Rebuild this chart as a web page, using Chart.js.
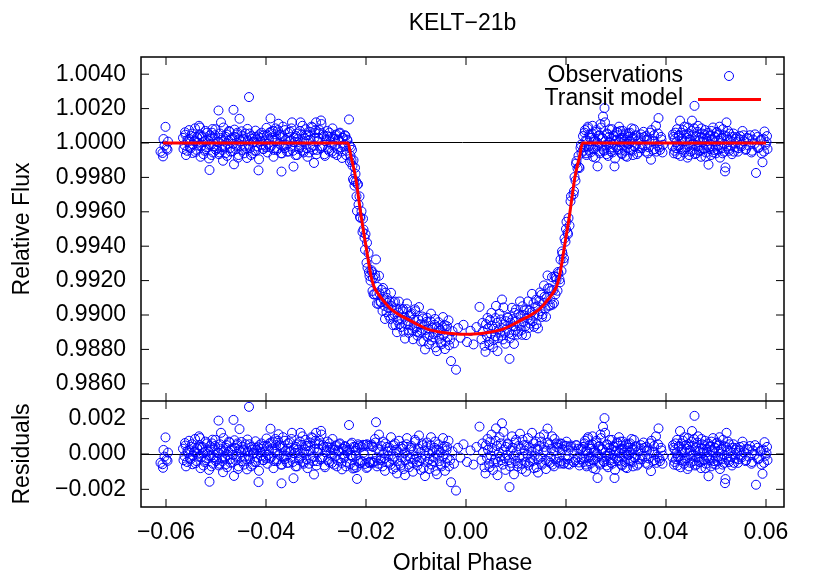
<!DOCTYPE html>
<html>
<head>
<meta charset="utf-8">
<script src="https://cdn.jsdelivr.net/npm/chart.js@4"></script>
<style>
  body { margin: 0; background: #fff; }
  #chart { display: block; }
</style>
</head>
<body>
<canvas id="chart" width="830" height="581"></canvas>
<script>
// ============================================
// KELT-21b transit: observations, model, residuals
// ============================================

// each observation: [orbital phase, relative flux, residual]
const edgeObs = [
  [-0.0611,0.99950,-0.00050],[-0.0607,0.99942,-0.00058],[-0.0606,0.99922,-0.00078],
  [-0.0605,1.00023,0.00023],[-0.0603,0.99985,-0.00015],[-0.0601,1.00094,0.00094],
  [-0.0599,0.99968,-0.00032],[-0.0597,0.99961,-0.00039],[-0.0596,1.00008,0.00008]
];

const preTransitObs = [
  [-0.0566,1.00030,0.00030],[-0.0563,0.99988,-0.00012],[-0.0561,1.00048,0.00048],
  [-0.0558,0.99955,-0.00045],[-0.0556,1.00008,0.00008],[-0.0553,1.00022,0.00022],
  [-0.0551,0.99970,-0.00030],[-0.0548,1.00055,0.00055],[-0.0546,0.99992,-0.00008],
  [-0.0543,1.00015,0.00015],[-0.0541,0.99948,-0.00052],[-0.0538,1.00035,0.00035],
  [-0.0536,1.00002,0.00002],[-0.0534,1.00100,0.00100],[-0.0532,1.00090,0.00090],
  [-0.0530,0.99980,-0.00020],[-0.0527,1.00040,0.00040],[-0.0525,0.99935,-0.00065],
  [-0.0522,1.00012,0.00012],[-0.0520,0.99965,-0.00035],[-0.0518,1.00060,0.00060],
  [-0.0515,0.99990,-0.00010],[-0.0513,0.99843,-0.00157],[-0.0511,1.00025,0.00025],
  [-0.0509,0.99930,-0.00070],[-0.0507,1.00081,0.00081],[-0.0505,0.99982,-0.00018],
  [-0.0502,1.00045,0.00045],[-0.0500,0.99960,-0.00040],[-0.0497,1.00005,0.00005],
  [-0.0495,1.00189,0.00189],[-0.0493,0.99945,-0.00055],[-0.0491,1.00030,0.00030],
  [-0.0490,1.00120,0.00120],[-0.0488,0.99975,-0.00025],[-0.0486,0.99897,-0.00103],
  [-0.0484,1.00015,0.00015],[-0.0481,0.99940,-0.00060],[-0.0479,1.00050,0.00050],
  [-0.0477,0.99995,-0.00005],[-0.0474,1.00070,0.00070],[-0.0472,0.99970,-0.00030],
  [-0.0470,1.00020,0.00020],[-0.0467,0.99952,-0.00048],[-0.0465,1.00193,0.00193],
  [-0.0464,0.99876,-0.00124],[-0.0462,1.00035,0.00035],[-0.0459,0.99985,-0.00015],
  [-0.0457,1.00060,0.00060],[-0.0455,0.99930,-0.00070],[-0.0453,1.00141,0.00141],
  [-0.0450,1.00010,0.00010],[-0.0448,0.99960,-0.00040],[-0.0446,1.00025,0.00025],
  [-0.0443,0.99980,-0.00020],[-0.0441,1.00055,0.00055],[-0.0438,0.99913,-0.00087],
  [-0.0436,1.00015,0.00015],[-0.0434,1.00267,0.00267],[-0.0432,0.99970,-0.00030],
  [-0.0429,1.00040,0.00040],[-0.0427,0.99940,-0.00060],[-0.0424,1.00005,0.00005],
  [-0.0422,1.00035,0.00035],[-0.0420,0.99955,-0.00045],[-0.0417,1.00020,0.00020],
  [-0.0415,0.99841,-0.00159],[-0.0413,1.00050,0.00050],[-0.0410,0.99990,-0.00010],
  [-0.0408,1.00030,0.00030],[-0.0405,0.99965,-0.00035],[-0.0403,1.00010,0.00010],
  [-0.0400,0.99975,-0.00025],[-0.0398,1.00045,0.00045],[-0.0396,0.99995,-0.00005],
  [-0.0393,1.00060,0.00060],[-0.0391,1.00143,0.00143],[-0.0389,0.99985,-0.00015],
  [-0.0386,1.00070,0.00070],[-0.0384,0.99960,-0.00040],[-0.0381,1.00085,0.00085],
  [-0.0379,1.00020,0.00020],[-0.0377,0.99970,-0.00030],[-0.0375,1.00112,0.00112],
  [-0.0372,1.00050,0.00050],[-0.0370,0.99940,-0.00060],[-0.0369,0.99834,-0.00166],
  [-0.0367,1.00040,0.00040],[-0.0365,0.99980,-0.00020],[-0.0362,1.00075,0.00075],
  [-0.0360,0.99990,-0.00010],[-0.0357,1.00030,0.00030],[-0.0355,0.99950,-0.00050],
  [-0.0352,1.00065,0.00065],[-0.0350,1.00015,0.00015],[-0.0348,1.00120,0.00120],
  [-0.0345,0.99863,-0.00137],[-0.0343,1.00005,0.00005],[-0.0340,1.00040,0.00040],
  [-0.0338,0.99930,-0.00070],[-0.0336,1.00025,0.00025],[-0.0333,0.99975,-0.00025],
  [-0.0331,1.00120,0.00120],[-0.0329,1.00050,0.00050],[-0.0326,0.99955,-0.00045],
  [-0.0324,1.00010,0.00010],[-0.0321,1.00080,0.00080],[-0.0319,0.99970,-0.00030],
  [-0.0316,1.00045,0.00045],[-0.0314,0.99945,-0.00055],[-0.0311,1.00020,0.00020],
  [-0.0309,1.00095,0.00095],[-0.0306,0.99985,-0.00015],[-0.0304,0.99884,-0.00116],
  [-0.0302,1.00060,0.00060],[-0.0300,1.00120,0.00120],[-0.0298,0.99960,-0.00040],
  [-0.0295,1.00030,0.00030],[-0.0293,1.00075,0.00075],[-0.0290,1.00131,0.00131],
  [-0.0288,0.99980,-0.00020],[-0.0286,1.00050,0.00050],[-0.0283,0.99935,-0.00065],
  [-0.0281,1.00010,0.00010],[-0.0278,1.00040,0.00040],[-0.0276,0.99965,-0.00035],
  [-0.0273,1.00060,0.00060],[-0.0271,1.00005,0.00005],[-0.0268,0.99950,-0.00050],
  [-0.0266,1.00025,0.00025],[-0.0263,0.99985,-0.00015],[-0.0261,1.00045,0.00045],
  [-0.0258,0.99930,-0.00070],[-0.0256,1.00020,0.00020],[-0.0253,1.00055,0.00055],
  [-0.0251,0.99975,-0.00025],[-0.0248,0.99913,-0.00087],[-0.0246,1.00030,0.00030],
  [-0.0243,0.99990,-0.00010],[-0.0241,1.00040,0.00040],[-0.0239,0.99955,-0.00045],
  [-0.0237,1.00015,0.00015]
];

const preTransitObsB = [
  [-0.0565,0.99965,-0.00035],[-0.0562,1.00062,0.00062],[-0.0560,0.99930,-0.00070],
  [-0.0557,1.00018,0.00018],[-0.0554,1.00075,0.00075],[-0.0552,0.99978,-0.00022],
  [-0.0549,1.00040,0.00040],[-0.0547,0.99942,-0.00058],[-0.0544,1.00010,0.00010],
  [-0.0542,1.00085,0.00085],[-0.0539,0.99960,-0.00040],[-0.0537,1.00028,0.00028],
  [-0.0535,0.99985,-0.00015],[-0.0533,1.00050,0.00050],[-0.0531,0.99920,-0.00080],
  [-0.0528,1.00035,0.00035],[-0.0526,1.00005,0.00005],[-0.0523,0.99955,-0.00045],
  [-0.0521,1.00070,0.00070],[-0.0519,0.99975,-0.00025],[-0.0516,1.00015,0.00015],
  [-0.0514,0.99910,-0.00090],[-0.0512,1.00045,0.00045],[-0.0510,0.99990,-0.00010],
  [-0.0508,1.00060,0.00060],[-0.0506,0.99945,-0.00055],[-0.0503,1.00025,0.00025],
  [-0.0501,1.00080,0.00080],[-0.0498,0.99970,-0.00030],[-0.0496,1.00008,0.00008],
  [-0.0494,0.99935,-0.00065],[-0.0492,1.00055,0.00055],[-0.0489,1.00020,0.00020],
  [-0.0487,0.99960,-0.00040],[-0.0485,1.00090,0.00090],[-0.0482,0.99980,-0.00020],
  [-0.0480,1.00035,0.00035],[-0.0478,0.99925,-0.00075],[-0.0475,1.00012,0.00012],
  [-0.0473,1.00065,0.00065],[-0.0471,0.99950,-0.00050],[-0.0468,1.00030,0.00030],
  [-0.0466,0.99995,-0.00005],[-0.0463,1.00078,0.00078],[-0.0461,0.99965,-0.00035],
  [-0.0458,1.00050,0.00050],[-0.0456,0.99915,-0.00085],[-0.0454,1.00022,0.00022],
  [-0.0451,0.99985,-0.00015],[-0.0449,1.00068,0.00068],[-0.0447,1.00040,0.00040],
  [-0.0444,0.99940,-0.00060],[-0.0442,1.00015,0.00015],[-0.0440,0.99970,-0.00030],
  [-0.0437,1.00082,0.00082],[-0.0435,0.99990,-0.00010],[-0.0433,1.00055,0.00055],
  [-0.0430,0.99930,-0.00070],[-0.0428,1.00025,0.00025],[-0.0426,1.00005,0.00005],
  [-0.0423,0.99955,-0.00045],[-0.0421,1.00072,0.00072],[-0.0418,0.99980,-0.00020],
  [-0.0416,1.00038,0.00038],[-0.0414,0.99905,-0.00095],[-0.0411,1.00010,0.00010],
  [-0.0409,1.00060,0.00060],[-0.0406,0.99965,-0.00035],[-0.0404,1.00045,0.00045],
  [-0.0401,0.99985,-0.00015],[-0.0399,1.00088,0.00088],[-0.0397,0.99945,-0.00055],
  [-0.0394,1.00020,0.00020],[-0.0392,0.99975,-0.00025],[-0.0390,1.00065,0.00065],
  [-0.0387,1.00030,0.00030],[-0.0385,0.99920,-0.00080],[-0.0382,1.00012,0.00012],
  [-0.0380,1.00050,0.00050],[-0.0378,0.99960,-0.00040],[-0.0376,1.00075,0.00075],
  [-0.0373,0.99995,-0.00005],[-0.0371,1.00035,0.00035],[-0.0368,0.99940,-0.00060],
  [-0.0366,1.00095,0.00095],[-0.0363,0.99970,-0.00030],[-0.0361,1.00018,0.00018],
  [-0.0358,0.99950,-0.00050],[-0.0356,1.00060,0.00060],[-0.0353,1.00010,0.00010],
  [-0.0351,0.99980,-0.00020],[-0.0349,1.00085,0.00085],[-0.0346,0.99955,-0.00045],
  [-0.0344,1.00030,0.00030],[-0.0341,0.99930,-0.00070],[-0.0339,1.00055,0.00055],
  [-0.0337,1.00005,0.00005],[-0.0334,0.99965,-0.00035],[-0.0332,1.00070,0.00070],
  [-0.0330,0.99985,-0.00015],[-0.0327,1.00100,0.00100],[-0.0325,0.99945,-0.00055],
  [-0.0322,1.00025,0.00025],[-0.0320,1.00045,0.00045],[-0.0317,0.99920,-0.00080],
  [-0.0315,1.00015,0.00015],[-0.0312,1.00065,0.00065],[-0.0310,0.99975,-0.00025],
  [-0.0307,1.00090,0.00090],[-0.0305,0.99960,-0.00040],[-0.0303,1.00030,0.00030],
  [-0.0301,1.00075,0.00075],[-0.0299,0.99935,-0.00065],[-0.0296,1.00010,0.00010],
  [-0.0294,1.00055,0.00055],[-0.0291,0.99970,-0.00030],[-0.0289,1.00110,0.00110],
  [-0.0287,0.99980,-0.00020],[-0.0284,1.00040,0.00040],[-0.0282,0.99925,-0.00075],
  [-0.0279,1.00020,0.00020],[-0.0277,1.00070,0.00070],[-0.0274,0.99955,-0.00045],
  [-0.0272,1.00035,0.00035],[-0.0269,0.99990,-0.00010],[-0.0267,1.00085,0.00085],
  [-0.0264,0.99940,-0.00060],[-0.0262,1.00025,0.00025],[-0.0259,1.00050,0.00050],
  [-0.0257,0.99965,-0.00035],[-0.0254,1.00015,0.00015],[-0.0252,1.00060,0.00060],
  [-0.0249,0.99950,-0.00050],[-0.0247,1.00030,0.00030],[-0.0244,0.99980,-0.00020],
  [-0.0242,1.00045,0.00045],[-0.0240,0.99930,-0.00070],[-0.0238,1.00020,0.00020]
];

const ingressObs = [
  [-0.0234,1.00137,0.00164],[-0.0233,0.99985,0.00025],[-0.0232,0.99890,-0.00057],
  [-0.0231,0.99926,-0.00007],[-0.0229,0.99900,-0.00008],[-0.0228,0.99960,0.00064],
  [-0.0227,0.99868,-0.00016],[-0.0226,0.99790,-0.00082],[-0.0225,0.99900,0.00040],
  [-0.0223,0.99752,-0.00079],[-0.0222,0.99856,0.00040],[-0.0221,0.99820,0.00018],
  [-0.0220,0.99777,-0.00010],[-0.0219,0.99690,-0.00076],[-0.0218,0.99605,-0.00141],
  [-0.0217,0.99760,0.00035],[-0.0215,0.99642,-0.00042],[-0.0213,0.99690,0.00048],
  [-0.0211,0.99565,-0.00036],[-0.0209,0.99603,0.00041],[-0.0207,0.99482,-0.00044],
  [-0.0205,0.99497,0.00007],[-0.0203,0.99449,-0.00005],[-0.0201,0.99470,0.00052],
  [-0.0199,0.99304,-0.00079],[-0.0197,0.99275,-0.00073],[-0.0195,0.99360,0.00046],
  [-0.0193,0.99227,-0.00052],[-0.0191,0.99200,-0.00044],[-0.0189,0.99260,0.00054],
  [-0.0187,0.99140,-0.00046],[-0.0186,0.99215,0.00040],[-0.0180,0.99323,0.00180],
  [-0.0230,0.99975,0.00055],[-0.0224,0.99780,-0.00065],[-0.0216,0.99760,0.00055],
  [-0.0212,0.99570,-0.00052],[-0.0206,0.99560,0.00052],[-0.0202,0.99380,-0.00056],
  [-0.0198,0.99420,0.00055],[-0.0194,0.99250,-0.00046],[-0.0188,0.99250,0.00044],
  [-0.0185,0.99120,-0.00050]
];

const bottomObs = [
  [-0.0183,0.99120,-0.00040],[-0.0181,0.99215,0.00065],[-0.0179,0.99121,-0.00020],
  [-0.0177,0.99163,0.00030],[-0.0175,0.99065,-0.00055],[-0.0173,0.99126,0.00010],
  [-0.0171,0.99073,-0.00035],[-0.0169,0.99146,0.00045],[-0.0167,0.99024,-0.00070],
  [-0.0165,0.99091,0.00005],[-0.0163,0.99053,-0.00025],[-0.0161,0.99130,0.00060],
  [-0.0159,0.99017,-0.00045],[-0.0157,0.99071,0.00015],[-0.0155,0.99040,-0.00010],
  [-0.0153,0.99079,0.00035],[-0.0151,0.98977,-0.00060],[-0.0149,0.99052,0.00020],
  [-0.0147,0.98998,-0.00030],[-0.0145,0.99074,0.00050],[-0.0143,0.99005,-0.00015],
  [-0.0141,0.98941,-0.00075],[-0.0139,0.99037,0.00025],[-0.0137,0.98968,-0.00040],
  [-0.0135,0.99015,0.00010],[-0.0133,0.98946,-0.00055],[-0.0131,0.99037,0.00040],
  [-0.0129,0.98974,-0.00020],[-0.0127,0.99021,0.00030],[-0.0125,0.98903,-0.00085],
  [-0.0123,0.98990,0.00005],[-0.0121,0.98947,-0.00035],[-0.0119,0.99034,0.00055],
  [-0.0117,0.98966,-0.00010],[-0.0115,0.98913,-0.00060],[-0.0113,0.98995,0.00025],
  [-0.0111,0.98942,-0.00025],[-0.0109,0.99009,0.00045],[-0.0107,0.98911,-0.00050],
  [-0.0105,0.98973,0.00015],[-0.0103,0.98925,-0.00030],[-0.0101,0.99022,0.00070],
  [-0.0099,0.98933,-0.00015],[-0.0097,0.98880,-0.00065],[-0.0095,0.98972,0.00030],
  [-0.0093,0.98899,-0.00040],[-0.0091,0.98946,0.00010],[-0.0089,0.98909,-0.00025],
  [-0.0087,0.98991,0.00060],[-0.0085,0.98848,-0.00080],[-0.0083,0.98945,0.00020],
  [-0.0081,0.98913,-0.00010],[-0.0079,0.98960,0.00040],[-0.0077,0.98873,-0.00045],
  [-0.0075,0.98921,0.00005],[-0.0073,0.98885,-0.00030],[-0.0071,0.98963,0.00050],
  [-0.0069,0.98852,-0.00060],[-0.0067,0.98925,0.00015],[-0.0065,0.98889,-0.00020],
  [-0.0063,0.98943,0.00035],[-0.0061,0.98812,-0.00095],[-0.0059,0.98930,0.00025],
  [-0.0057,0.98899,-0.00005],[-0.0055,0.98958,0.00055],[-0.0053,0.98862,-0.00040],
  [-0.0051,0.98911,0.00010],[-0.0049,0.98830,-0.00070],[-0.0047,0.98929,0.00030],
  [-0.0045,0.98883,-0.00015],[-0.0043,0.98942,0.00045],[-0.0041,0.98846,-0.00050],
  [-0.0039,0.98916,0.00020],[-0.0037,0.98870,-0.00025],[-0.0035,0.98969,0.00075],
  [-0.0032,0.98858,-0.00035],[-0.0030,0.98732,-0.00160],[-0.0027,0.98906,0.00015],
  [-0.0024,0.98835,-0.00055],[-0.0020,0.98682,-0.00207],[-0.0016,0.98924,0.00035],
  [-0.0011,0.98868,-0.00020],[-0.0005,0.98943,0.00055],[0.0002,0.98843,-0.00045],
  [0.0009,0.98908,0.00020],[0.0015,0.98829,-0.00060],[0.0021,0.98930,0.00040],
  [0.0027,0.99047,0.00155],[0.0031,0.98859,-0.00035],[0.0034,0.98905,0.00010],
  [0.0037,0.98821,-0.00075],[0.0040,0.98947,0.00050],[0.0042,0.98878,-0.00020],
  [0.0044,0.98923,0.00025],[0.0046,0.98844,-0.00055],[0.0048,0.98970,0.00070],
  [0.0050,0.98891,-0.00010],[0.0052,0.98937,0.00035],[0.0054,0.98813,-0.00090],
  [0.0056,0.98920,0.00015],[0.0058,0.98876,-0.00030],[0.0060,0.99053,0.00145],
  [0.0062,0.98954,0.00045],[0.0064,0.98865,-0.00045],[0.0066,0.98916,0.00005],
  [0.0068,0.98898,-0.00015],[0.0070,0.98974,0.00060],[0.0072,0.99090,0.00174],
  [0.0074,0.98858,-0.00060],[0.0076,0.98945,0.00025],[0.0078,0.98897,-0.00025],
  [0.0080,0.98964,0.00040],[0.0082,0.98921,-0.00005],[0.0084,0.98984,0.00055],
  [0.0086,0.98896,-0.00035],[0.0087,0.98745,-0.00187],[0.0089,0.98955,0.00020],
  [0.0091,0.98888,-0.00050],[0.0093,0.98976,0.00035],[0.0095,0.98934,-0.00010],
  [0.0097,0.99012,0.00065],[0.0099,0.98910,-0.00040],[0.0101,0.98963,0.00010],
  [0.0103,0.98886,-0.00070],[0.0105,0.99004,0.00045],[0.0107,0.98942,-0.00020],
  [0.0109,0.98995,0.00030],[0.0111,0.98913,-0.00055],[0.0113,0.99051,0.00080],
  [0.0115,0.98959,-0.00015],[0.0117,0.98997,0.00020],[0.0119,0.98935,-0.00045],
  [0.0121,0.99033,0.00050],[0.0123,0.98981,-0.00005],[0.0125,0.98924,-0.00065],
  [0.0127,0.99027,0.00035],[0.0129,0.98971,-0.00025],[0.0131,0.99015,0.00015],
  [0.0133,0.98964,-0.00040],[0.0135,0.99068,0.00060],[0.0137,0.99002,-0.00010],
  [0.0139,0.99046,0.00030],[0.0141,0.98946,-0.00075],[0.0143,0.99051,0.00025],
  [0.0145,0.99001,-0.00030],[0.0147,0.99081,0.00045],[0.0149,0.99022,-0.00020],
  [0.0151,0.99118,0.00070],[0.0153,0.99004,-0.00050],[0.0155,0.99070,0.00010],
  [0.0157,0.99106,0.00040],[0.0159,0.99037,-0.00035],[0.0161,0.99099,0.00020],
  [0.0163,0.99230,0.00144],[0.0165,0.99053,-0.00040],[0.0167,0.99155,0.00055],
  [0.0169,0.99091,-0.00015],[0.0171,0.99143,0.00030],[0.0173,0.99060,-0.00060],
  [0.0175,0.99145,0.00015],[0.0177,0.99225,0.00085],[0.0179,0.99120,-0.00030],
  [0.0181,0.99205,0.00040]
];

const bottomObsB = [
  [-0.0182,0.99235,0.00085],[-0.0178,0.99066,-0.00070],[-0.0174,0.99228,0.00110],
  [-0.0170,0.99077,-0.00025],[-0.0166,0.99157,0.00070],[-0.0162,0.98977,-0.00095],
  [-0.0158,0.99099,0.00040],[-0.0154,0.98996,-0.00050],[-0.0150,0.99129,0.00095],
  [-0.0146,0.98941,-0.00085],[-0.0142,0.99078,0.00060],[-0.0138,0.98900,-0.00110],
  [-0.0134,0.99078,0.00075],[-0.0130,0.98930,-0.00065],[-0.0126,0.99034,0.00045],
  [-0.0122,0.98863,-0.00120],[-0.0118,0.99067,0.00090],[-0.0114,0.98896,-0.00075],
  [-0.0110,0.99000,0.00035],[-0.0106,0.98859,-0.00100],[-0.0102,0.99033,0.00080],
  [-0.0098,0.98902,-0.00045],[-0.0094,0.99046,0.00105],[-0.0090,0.98846,-0.00090],
  [-0.0086,0.98980,0.00050],[-0.0082,0.98800,-0.00125],[-0.0078,0.98984,0.00065],
  [-0.0074,0.98830,-0.00085],[-0.0070,0.99008,0.00095],[-0.0066,0.98870,-0.00040],
  [-0.0062,0.98977,0.00070],[-0.0058,0.98790,-0.00115],[-0.0054,0.98922,0.00020],
  [-0.0050,0.98840,-0.00060],[-0.0046,0.98988,0.00090],[-0.0042,0.98802,-0.00095],
  [-0.0038,0.98935,0.00040],[-0.0034,0.98824,-0.00070],[0.0033,0.98954,0.00060],
  [0.0039,0.98786,-0.00110],[0.0043,0.98983,0.00085],[0.0047,0.98825,-0.00075],
  [0.0051,0.99012,0.00110],[0.0055,0.98854,-0.00050],[0.0059,0.98982,0.00075],
  [0.0063,0.98790,-0.00120],[0.0067,0.99008,0.00095],[0.0071,0.98880,-0.00035],
  [0.0075,0.99044,0.00125],[0.0079,0.98833,-0.00090],[0.0083,0.98988,0.00060],
  [0.0088,0.98864,-0.00070],[0.0092,0.99042,0.00100],[0.0096,0.98832,-0.00115],
  [0.0100,0.99032,0.00080],[0.0104,0.98903,-0.00055],[0.0108,0.99079,0.00115],
  [0.0112,0.98885,-0.00085],[0.0116,0.99026,0.00050],[0.0120,0.98883,-0.00100],
  [0.0124,0.99079,0.00090],[0.0128,0.98950,-0.00045],[0.0132,0.99123,0.00120],
  [0.0136,0.98931,-0.00080],[0.0140,0.99089,0.00070],[0.0144,0.98922,-0.00105],
  [0.0148,0.99131,0.00095],[0.0152,0.98989,-0.00060],[0.0156,0.99172,0.00110],
  [0.0160,0.98990,-0.00085],[0.0164,0.99155,0.00065],[0.0168,0.99055,-0.00050],
  [0.0172,0.99220,0.00100],[0.0176,0.99070,-0.00070],[0.0180,0.99220,0.00060]
];

const egressObs = [
  [0.0183,0.99141,-0.00045],[0.0185,0.99241,0.00035],[0.0187,0.99207,-0.00020],
  [0.0189,0.99322,0.00060],[0.0191,0.99256,-0.00040],[0.0193,0.99356,0.00025],
  [0.0195,0.99310,-0.00055],[0.0197,0.99445,0.00045],[0.0199,0.99426,-0.00010],
  [0.0201,0.99542,0.00070],[0.0203,0.99478,-0.00030],[0.0205,0.99564,0.00020],
  [0.0207,0.99520,-0.00060],[0.0209,0.99661,0.00040],[0.0215,0.99701,-0.00045],
  [0.0217,0.99802,0.00015],[0.0219,0.99781,-0.00035],[0.0221,0.99895,0.00050],
  [0.0223,0.99852,-0.00020],[0.0225,0.99926,0.00030],[0.0227,0.99855,-0.00065],
  [0.0229,0.99972,0.00025],[0.0231,0.99943,-0.00030],
  [0.0184,0.99250,0.00054],[0.0188,0.99190,-0.00054],[0.0192,0.99370,0.00057],
  [0.0196,0.99330,-0.00053],[0.0200,0.99500,0.00046],[0.0204,0.99470,-0.00056],
  [0.0210,0.99690,0.00048],[0.0216,0.99720,-0.00046],[0.0220,0.99880,0.00049],
  [0.0226,0.99860,-0.00048],[0.0230,0.99990,0.00030]
];

const postTransitObs = [
  [0.0234,1.00040,0.00040],[0.0236,0.99975,-0.00025],[0.0238,1.00075,0.00075],
  [0.0240,0.99940,-0.00060],[0.0242,1.00015,0.00015],[0.0244,1.00095,0.00095],
  [0.0246,0.99960,-0.00040],[0.0248,1.00030,0.00030],[0.0250,0.99985,-0.00015],
  [0.0252,1.00055,0.00055],[0.0254,0.99920,-0.00080],[0.0256,1.00020,0.00020],
  [0.0258,0.99970,-0.00030],[0.0260,1.00065,0.00065],[0.0262,1.00005,0.00005],
  [0.0263,0.99864,-0.00136],[0.0265,1.00040,0.00040],[0.0267,0.99950,-0.00050],
  [0.0269,1.00110,0.00110],[0.0271,0.99980,-0.00020],[0.0272,1.00030,0.00030],
  [0.0274,1.00154,0.00154],[0.0276,0.99955,-0.00045],[0.0277,1.00203,0.00203],
  [0.0279,1.00010,0.00010],[0.0281,0.99935,-0.00065],[0.0283,1.00050,0.00050],
  [0.0285,0.99990,-0.00010],[0.0287,1.00080,0.00080],[0.0289,0.99965,-0.00035],
  [0.0291,1.00025,0.00025],[0.0293,0.99945,-0.00055],[0.0295,1.00045,0.00045],
  [0.0297,0.99864,-0.00136],[0.0299,1.00015,0.00015],[0.0301,0.99975,-0.00025],
  [0.0303,1.00060,0.00060],[0.0305,0.99960,-0.00040],[0.0307,1.00005,0.00005],
  [0.0309,1.00070,0.00070],[0.0311,0.99940,-0.00060],[0.0313,1.00030,0.00030],
  [0.0315,0.99985,-0.00015],[0.0317,1.00045,0.00045],[0.0319,0.99925,-0.00075],
  [0.0321,1.00020,0.00020],[0.0323,0.99995,-0.00005],[0.0325,1.00055,0.00055],
  [0.0327,0.99965,-0.00035],[0.0329,1.00010,0.00010],[0.0331,1.00085,0.00085],
  [0.0333,0.99955,-0.00045],[0.0335,1.00025,0.00025],[0.0337,0.99980,-0.00020],
  [0.0339,1.00040,0.00040],[0.0342,0.99935,-0.00065],[0.0344,1.00015,0.00015],
  [0.0347,0.99970,-0.00030],[0.0350,1.00050,0.00050],[0.0353,0.99990,-0.00010],
  [0.0356,1.00035,0.00035],[0.0359,0.99950,-0.00050],[0.0362,1.00020,0.00020],
  [0.0365,0.99975,-0.00025],[0.0368,1.00060,0.00060],[0.0370,0.99903,-0.00097],
  [0.0373,1.00010,0.00010],[0.0376,1.00045,0.00045],[0.0378,0.99965,-0.00035],
  [0.0380,1.00100,0.00100],[0.0383,0.99985,-0.00015],[0.0385,1.00145,0.00145],
  [0.0388,0.99960,-0.00040],[0.0391,1.00020,0.00020],[0.0394,0.99990,-0.00010]
];

const postTransitObsB = [
  [0.0235,0.99955,-0.00045],[0.0237,1.00060,0.00060],[0.0239,1.00015,0.00015],
  [0.0241,0.99930,-0.00070],[0.0243,1.00085,0.00085],[0.0245,0.99980,-0.00020],
  [0.0247,1.00050,0.00050],[0.0249,0.99945,-0.00055],[0.0251,1.00030,0.00030],
  [0.0253,1.00100,0.00100],[0.0255,0.99965,-0.00035],[0.0257,1.00010,0.00010],
  [0.0259,0.99915,-0.00085],[0.0261,1.00075,0.00075],[0.0264,0.99985,-0.00015],
  [0.0266,1.00045,0.00045],[0.0268,0.99940,-0.00060],[0.0270,1.00090,0.00090],
  [0.0273,1.00025,0.00025],[0.0275,0.99960,-0.00040],[0.0278,1.00120,0.00120],
  [0.0280,0.99990,-0.00010],[0.0282,1.00055,0.00055],[0.0284,0.99925,-0.00075],
  [0.0286,1.00035,0.00035],[0.0288,1.00005,0.00005],[0.0290,0.99950,-0.00050],
  [0.0292,1.00080,0.00080],[0.0294,0.99975,-0.00025],[0.0296,1.00040,0.00040],
  [0.0298,0.99910,-0.00090],[0.0300,1.00020,0.00020],[0.0302,1.00065,0.00065],
  [0.0304,0.99965,-0.00035],[0.0306,1.00095,0.00095],[0.0308,0.99985,-0.00015],
  [0.0310,1.00030,0.00030],[0.0312,0.99935,-0.00065],[0.0314,1.00070,0.00070],
  [0.0316,1.00010,0.00010],[0.0318,0.99955,-0.00045],[0.0320,1.00055,0.00055],
  [0.0322,0.99920,-0.00080],[0.0324,1.00035,0.00035],[0.0326,0.99995,-0.00005],
  [0.0328,1.00060,0.00060],[0.0330,0.99960,-0.00040],[0.0332,1.00025,0.00025],
  [0.0334,0.99930,-0.00070],[0.0336,1.00080,0.00080],[0.0338,0.99980,-0.00020],
  [0.0341,1.00045,0.00045],[0.0345,0.99945,-0.00055],[0.0349,1.00030,0.00030],
  [0.0352,0.99970,-0.00030],[0.0355,1.00065,0.00065],[0.0358,0.99985,-0.00015],
  [0.0361,1.00040,0.00040],[0.0364,0.99940,-0.00060],[0.0367,1.00020,0.00020],
  [0.0371,1.00075,0.00075],[0.0374,0.99960,-0.00040],[0.0377,1.00010,0.00010],
  [0.0381,0.99950,-0.00050],[0.0384,1.00055,0.00055],[0.0387,0.99975,-0.00025],
  [0.0390,1.00035,0.00035],[0.0393,0.99945,-0.00055]
];

const lateObs = [
  [0.0413,0.99980,-0.00020],[0.0415,1.00035,0.00035],[0.0417,0.99955,-0.00045],
  [0.0419,1.00060,0.00060],[0.0421,1.00005,0.00005],[0.0423,0.99935,-0.00065],
  [0.0425,1.00040,0.00040],[0.0427,0.99985,-0.00015],[0.0428,1.00130,0.00130],
  [0.0430,0.99965,-0.00035],[0.0432,1.00025,0.00025],[0.0434,1.00075,0.00075],
  [0.0436,0.99945,-0.00055],[0.0438,1.00010,0.00010],[0.0440,1.00050,0.00050],
  [0.0442,0.99975,-0.00025],[0.0444,1.00090,0.00090],[0.0446,0.99930,-0.00070],
  [0.0448,1.00020,0.00020],[0.0450,0.99990,-0.00010],[0.0452,1.00130,0.00130],
  [0.0454,1.00045,0.00045],[0.0455,0.99960,-0.00040],[0.0457,1.00216,0.00216],
  [0.0459,1.00015,0.00015],[0.0461,0.99940,-0.00060],[0.0463,1.00065,0.00065],
  [0.0465,0.99980,-0.00020],[0.0467,1.00030,0.00030],[0.0469,0.99955,-0.00045],
  [0.0471,1.00085,0.00085],[0.0473,1.00005,0.00005],[0.0475,0.99970,-0.00030],
  [0.0477,1.00050,0.00050],[0.0479,0.99920,-0.00080],[0.0481,1.00025,0.00025],
  [0.0483,0.99985,-0.00015],[0.0485,0.99874,-0.00126],[0.0487,1.00040,0.00040],
  [0.0489,0.99965,-0.00035],[0.0491,1.00070,0.00070],[0.0493,1.00010,0.00010],
  [0.0495,0.99945,-0.00055],[0.0497,1.00035,0.00035],[0.0499,0.99980,-0.00020],
  [0.0501,1.00060,0.00060],[0.0503,0.99960,-0.00040],[0.0505,1.00015,0.00015],
  [0.0507,1.00095,0.00095],[0.0509,0.99975,-0.00025],[0.0511,1.00030,0.00030],
  [0.0513,0.99940,-0.00060],[0.0515,1.00045,0.00045],[0.0517,0.99995,-0.00005],
  [0.0518,0.99835,-0.00165],[0.0519,0.99858,-0.00142],[0.0521,1.00120,0.00120],
  [0.0523,1.00020,0.00020],[0.0525,0.99965,-0.00035],[0.0527,1.00055,0.00055],
  [0.0530,0.99985,-0.00015],[0.0533,1.00035,0.00035],[0.0536,0.99950,-0.00050],
  [0.0539,1.00025,0.00025],[0.0542,1.00005,0.00005],[0.0545,0.99970,-0.00030],
  [0.0548,1.00040,0.00040],[0.0551,0.99980,-0.00020],[0.0553,1.00070,0.00070],
  [0.0556,1.00010,0.00010],[0.0559,0.99960,-0.00040],[0.0562,1.00030,0.00030],
  [0.0565,0.99985,-0.00015],[0.0568,1.00045,0.00045],[0.0571,0.99945,-0.00055],
  [0.0574,1.00020,0.00020],[0.0577,0.99995,-0.00005],[0.0580,0.99826,-0.00174],
  [0.0583,1.00035,0.00035],[0.0586,0.99975,-0.00025],[0.0589,1.00015,0.00015],
  [0.0591,0.99940,-0.00060],[0.0593,0.99888,-0.00112],[0.0595,1.00025,0.00025],
  [0.0597,1.00067,0.00067],[0.0599,0.99990,-0.00010],[0.0601,1.00005,0.00005],
  [0.0603,0.99965,-0.00035]
];

const lateObsB = [
  [0.0414,1.00050,0.00050],[0.0416,0.99940,-0.00060],[0.0418,1.00025,0.00025],
  [0.0420,0.99970,-0.00030],[0.0422,1.00080,0.00080],[0.0424,0.99985,-0.00015],
  [0.0426,1.00045,0.00045],[0.0429,0.99925,-0.00075],[0.0431,1.00060,0.00060],
  [0.0433,1.00010,0.00010],[0.0435,0.99960,-0.00040],[0.0437,1.00095,0.00095],
  [0.0439,0.99975,-0.00025],[0.0441,1.00030,0.00030],[0.0443,0.99915,-0.00085],
  [0.0445,1.00055,0.00055],[0.0447,1.00020,0.00020],[0.0449,0.99950,-0.00050],
  [0.0451,1.00070,0.00070],[0.0453,0.99990,-0.00010],[0.0456,1.00085,0.00085],
  [0.0458,0.99935,-0.00065],[0.0460,1.00040,0.00040],[0.0462,0.99980,-0.00020],
  [0.0464,1.00100,0.00100],[0.0466,0.99955,-0.00045],[0.0468,1.00015,0.00015],
  [0.0470,0.99920,-0.00080],[0.0472,1.00055,0.00055],[0.0474,1.00030,0.00030],
  [0.0476,0.99965,-0.00035],[0.0478,1.00075,0.00075],[0.0480,0.99945,-0.00055],
  [0.0482,1.00010,0.00010],[0.0484,1.00060,0.00060],[0.0486,0.99975,-0.00025],
  [0.0488,1.00045,0.00045],[0.0490,0.99930,-0.00070],[0.0492,1.00020,0.00020],
  [0.0494,1.00090,0.00090],[0.0496,0.99960,-0.00040],[0.0498,1.00035,0.00035],
  [0.0500,0.99940,-0.00060],[0.0502,1.00065,0.00065],[0.0504,0.99985,-0.00015],
  [0.0506,1.00050,0.00050],[0.0508,0.99915,-0.00085],[0.0510,1.00025,0.00025],
  [0.0512,0.99970,-0.00030],[0.0514,1.00080,0.00080],[0.0516,0.99950,-0.00050],
  [0.0520,1.00040,0.00040],[0.0522,0.99980,-0.00020],[0.0524,1.00070,0.00070],
  [0.0526,0.99955,-0.00045],[0.0529,1.00015,0.00015],[0.0532,0.99935,-0.00065],
  [0.0535,1.00055,0.00055],[0.0538,0.99975,-0.00025],[0.0541,1.00035,0.00035],
  [0.0544,0.99950,-0.00050],[0.0547,1.00020,0.00020],[0.0550,0.99990,-0.00010],
  [0.0555,1.00045,0.00045],[0.0560,0.99965,-0.00035],[0.0566,1.00025,0.00025],
  [0.0572,0.99955,-0.00045],[0.0578,1.00050,0.00050],[0.0584,0.99970,-0.00030],
  [0.0590,1.00020,0.00020],[0.0596,0.99950,-0.00050],[0.0602,1.00040,0.00040]
];

// transit model curve
const modelPhase = [-0.0606,-0.0236,-0.0230,-0.0225,-0.0220,-0.0210,-0.0200,-0.0190,-0.0184,
  -0.0175,-0.0160,-0.0150,-0.0130,-0.0117,-0.0095,-0.0077,-0.0050,-0.0017,-0.0002,0.0015,
  0.0047,0.0074,0.0092,0.0114,0.0127,0.0147,0.0157,0.0172,0.0181,0.0187,0.0197,0.0207,
  0.0217,0.0222,0.0227,0.0233,0.0600];
const modelFlux = [1.0,1.0,0.9992,0.9986,0.99787,0.9958,0.9940,0.99227,0.99165,
  0.9912,0.99065,0.99034,0.98995,0.98976,0.98942,0.98918,0.98900,0.98889,0.98888,0.98889,
  0.98900,0.98918,0.98942,0.98976,0.98995,0.99034,0.99065,0.9912,0.99165,0.99227,0.9940,0.9958,
  0.99787,0.9986,0.9992,1.0,1.0];

// tick values
const phaseTicks = [-0.06, -0.04, -0.02, 0.0, 0.02, 0.04, 0.06];
const fluxTicks = [0.986, 0.988, 0.990, 0.992, 0.994, 0.996, 0.998, 1.000, 1.002, 1.004];
const residTicks = [-0.002, 0.0, 0.002];

const allObs = [...edgeObs, ...preTransitObs, ...preTransitObsB, ...ingressObs,
  ...bottomObs, ...bottomObsB, ...egressObs, ...postTransitObs, ...postTransitObsB,
  ...lateObs, ...lateObsB];
const obsPoints = allObs.map(o => ({ x: o[0], y: o[1] }));
const residPoints = allObs.map(o => ({ x: o[0], y: o[2] }));
const modelPoints = modelPhase.map((p, i) => ({ x: p, y: modelFlux[i] }));

const FONT = "'Liberation Sans', Arial, Helvetica, sans-serif";
const minus = s => s.replace('-', '\u2212');

Chart.defaults.font.family = FONT;
Chart.defaults.font.size = 23;
Chart.defaults.color = '#000';

// frame, inward mirrored ticks and gnuplot-style key
const frameTicks = {
  id: 'frameTicks',
  afterDraw(chart) {
    const { ctx, chartArea: a, scales: { x, y, y2 } } = chart;
    const len = 8;
    ctx.save();
    ctx.strokeStyle = '#000';
    ctx.lineWidth = 1;
    ctx.beginPath();
    [[y.top, y.bottom], [y2.top, y2.bottom]].forEach(([t, b]) => {
      phaseTicks.forEach(v => {
        const px = x.getPixelForValue(v);
        ctx.moveTo(px, t); ctx.lineTo(px, t + len);
        ctx.moveTo(px, b); ctx.lineTo(px, b - len);
      });
    });
    [[y, fluxTicks], [y2, residTicks]].forEach(([s, ticks]) => {
      ticks.forEach(v => {
        const py = s.getPixelForValue(v);
        ctx.moveTo(a.left, py); ctx.lineTo(a.left + len, py);
        ctx.moveTo(a.right, py); ctx.lineTo(a.right - len, py);
      });
    });
    ctx.stroke();

    ctx.lineWidth = 1.5;
    ctx.strokeRect(a.left, a.top, a.right - a.left, a.bottom - a.top);
    ctx.beginPath();
    ctx.moveTo(a.left, y.bottom);
    ctx.lineTo(a.right, y.bottom);
    ctx.stroke();

    // key
    ctx.font = '23px ' + FONT;
    ctx.fillStyle = '#000';
    ctx.textAlign = 'right';
    ctx.textBaseline = 'middle';
    ctx.fillText('Observations', a.right - 101, a.top + 19);
    ctx.fillText('Transit model', a.right - 101, a.top + 42);
    ctx.strokeStyle = '#0000ff';
    ctx.lineWidth = 1;
    ctx.beginPath();
    ctx.arc(a.right - 55, a.top + 19, 4.5, 0, Math.PI * 2);
    ctx.stroke();
    ctx.strokeStyle = '#ff0000';
    ctx.lineWidth = 3;
    ctx.beginPath();
    ctx.moveTo(a.right - 86, a.top + 42.5);
    ctx.lineTo(a.right - 23, a.top + 42.5);
    ctx.stroke();
    ctx.restore();
  }
};

const pointStyle = {
  pointStyle: 'circle',
  pointRadius: 4.5,
  pointBorderWidth: 1,
  pointBorderColor: '#0000ff',
  pointBackgroundColor: 'rgba(0,0,0,0)'
};

new Chart(document.getElementById('chart').getContext('2d'), {
  type: 'scatter',
  data: {
    datasets: [
      {
        label: 'Transit model',
        data: modelPoints,
        yAxisID: 'y',
        showLine: true,
        borderColor: '#ff0000',
        borderWidth: 3,
        pointRadius: 0,
        cubicInterpolationMode: 'monotone',
        order: 0
      },
      Object.assign({ label: 'Observations', data: obsPoints, yAxisID: 'y', order: 1 }, pointStyle),
      Object.assign({ label: 'Residuals', data: residPoints, yAxisID: 'y2', order: 1 }, pointStyle)
    ]
  },
  options: {
    responsive: false,
    animation: false,
    devicePixelRatio: 1,
    layout: { padding: { left: 0, right: 46, top: 0, bottom: 0 } },
    plugins: {
      legend: { display: false },
      tooltip: { enabled: false },
      title: {
        display: true,
        text: 'KELT\u221221b',
        fullSize: false,
        font: { size: 23, weight: 'normal' },
        padding: { top: 9.5, bottom: 19.9 }
      }
    },
    scales: {
      x: {
        type: 'linear',
        position: 'bottom',
        min: -0.065,
        max: 0.0636,
        afterBuildTicks: s => { s.ticks = phaseTicks.map(v => ({ value: v })); },
        afterFit: s => { s.height = 74; },
        grid: { display: false, drawTicks: false },
        border: { display: false },
        ticks: { padding: 12, autoSkip: false, maxRotation: 0, callback: v => minus(v.toFixed(2)) },
        title: { display: true, text: 'Orbital Phase', padding: { top: 0, bottom: 3.5 } }
      },
      y2: {
        type: 'linear',
        position: 'left',
        stack: 'panels',
        stackWeight: 106,
        min: -0.003,
        max: 0.003,
        afterBuildTicks: s => { s.ticks = residTicks.map(v => ({ value: v })); },
        afterFit: s => { s.width = 141; },
        grid: {
          drawTicks: false,
          lineWidth: 1,
          color: c => (c.tick && Math.abs(c.tick.value) < 1e-12) ? '#000' : 'rgba(0,0,0,0)'
        },
        border: { display: false },
        ticks: { padding: 15, autoSkip: false, callback: v => minus(v.toFixed(3)) },
        title: { display: true, text: 'Residuals', padding: { top: 8.7, bottom: 0 } }
      },
      y: {
        type: 'linear',
        position: 'left',
        stack: 'panels',
        stackWeight: 344,
        min: 0.985,
        max: 1.005,
        afterBuildTicks: s => { s.ticks = fluxTicks.map(v => ({ value: v })); },
        afterFit: s => { s.width = 141; },
        grid: {
          drawTicks: false,
          lineWidth: 1,
          color: c => (c.tick && Math.abs(c.tick.value - 1) < 1e-9) ? '#000' : 'rgba(0,0,0,0)'
        },
        border: { display: false },
        ticks: { padding: 15, autoSkip: false, callback: v => v.toFixed(4) },
        title: { display: true, text: 'Relative Flux', padding: { top: 8.7, bottom: 0 } }
      }
    }
  },
  plugins: [frameTicks]
});
</script>
</body>
</html>
